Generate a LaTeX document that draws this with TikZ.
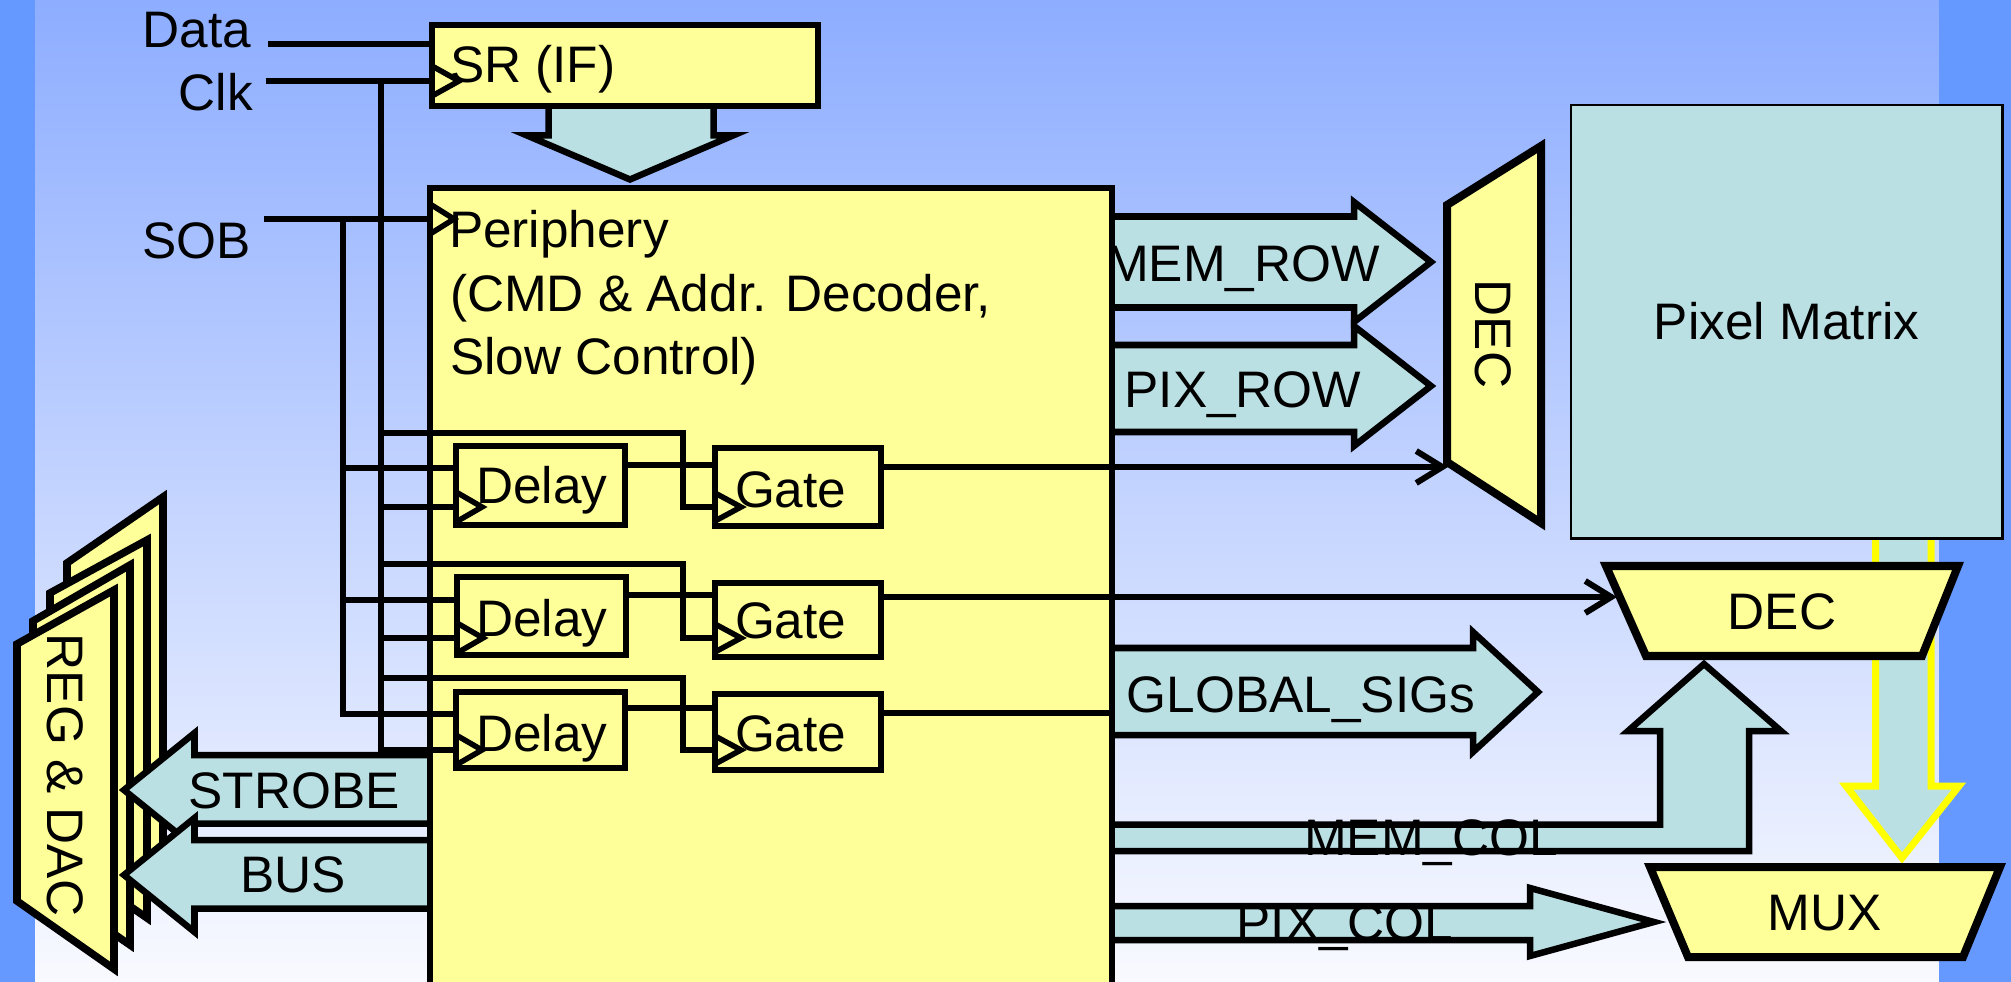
\documentclass[tikz,border=0pt]{standalone}
\usepackage{fontspec}
\setmainfont{Liberation Sans}
\usetikzlibrary{arrows.meta}
\definecolor{yfill}{RGB}{255,255,153}
\definecolor{cfill}{RGB}{187,224,227}
\definecolor{stripc}{RGB}{102,153,255}
\definecolor{bgtop}{RGB}{141,173,255}
\definecolor{bgmid}{RGB}{205,218,255}
\definecolor{bgbot}{RGB}{249,250,255}
\definecolor{yline}{RGB}{255,255,0}
\begin{document}
\begin{tikzpicture}[x=0.01cm,y=-0.01cm,
  lab/.style={font=\fontsize{14.6}{17}\selectfont, inner sep=0pt, outer sep=0pt},
  wire/.style={line width=0.06cm, line cap=butt},
  blk/.style={draw, line width=0.06cm, fill=yfill, inner sep=0pt, outer sep=0pt, anchor=north west},
  fat/.style={draw, fill=cfill, line width=0.065cm, miter limit=20},
  trap/.style={draw, fill=yfill, line width=0.08cm, miter limit=20},
  reg/.style={draw, fill=yfill, line width=0.075cm, miter limit=20},
  clock/.style={line width=0.055cm},
  tip/.style={-{Straight Barb[length=0.26cm,width=0.32cm]}},
]
\useasboundingbox (0,0) rectangle (2011,982);
\clip (0,0) rectangle (2011,982);
% background
\shade[top color=bgtop, middle color=bgmid, bottom color=bgbot] (0,0) rectangle (2011,982);
\fill[stripc] (0,0) rectangle (35,982);
\fill[stripc] (1939,0) rectangle (2011,982);

% yellow-outlined arrow from pixel matrix to MUX
\path[fill=cfill, draw=yline, line width=0.07cm, miter limit=20]
  (1875.5,530) -- (1875.5,786) -- (1846,786) -- (1902,858) -- (1959,786) -- (1931,786) -- (1931,530);

% pixel matrix
\node[draw, fill=cfill, line width=0.025cm, inner sep=0pt, outer sep=0pt, anchor=north west,
      minimum width=4.31cm, minimum height=4.33cm] (pm) at (1571,105) {};
\node[lab] (pmt) at (pm.center) {Pixel Matrix};

% decoders and mux
\draw[trap] (1447,205) -- (1541,146) -- (1541,523) -- (1447,462) -- cycle;
\draw[trap] (1606,566) -- (1958,566) -- (1922,656) -- (1646,656) -- cycle;
\draw[trap] (1650,867) -- (2000,867) -- (1963,957) -- (1688,957) -- cycle;
\coordinate (decvin) at (1448,467);
\coordinate (dechin) at (1617,597);

% wide arrows on the right
\path[fat] (1112,216.5) -- (1354,216.5) -- (1354,202) -- (1431,262) -- (1354,322) -- (1354,307.5) -- (1112,307.5);
\path[fat] (1112,345) -- (1354,345) -- (1354,326) -- (1431,386) -- (1354,446) -- (1354,432) -- (1112,432);
\path[fat] (1112,648) -- (1473,648) -- (1473,632) -- (1538,692) -- (1473,752) -- (1473,735) -- (1112,735);
\path[fat] (1112,824.5) -- (1660,824.5) -- (1660,731) -- (1628,731) -- (1704,664) -- (1781,731) -- (1749,731) -- (1749,851) -- (1112,851);
\path[fat] (1112,906) -- (1530,906) -- (1530,888) -- (1654,922) -- (1530,956) -- (1530,940) -- (1112,940);

% REG & DAC stack
\draw[reg] (67,563) -- (163,497) -- (163,890) -- (67,824) -- cycle;
\draw[reg] (50,593) -- (147,540) -- (147,918) -- (50,851) -- cycle;
\draw[reg] (33,621) -- (130,565) -- (130,945) -- (33,878) -- cycle;
\draw[reg] (17,644) -- (114,590) -- (114,969) -- (17,901) -- cycle;

% STROBE and BUS arrows
\path[fat] (430,755) -- (194.5,755) -- (194.5,733) -- (124,790) -- (194.5,847) -- (194.5,823.5) -- (430,823.5);
\path[fat] (430,840) -- (194.5,840) -- (194.5,818) -- (124,875) -- (194.5,932) -- (194.5,908.5) -- (430,908.5);

% SR down arrow
\path[fat] (548.5,105) -- (548.5,135.5) -- (527,135.5) -- (630,179.5) -- (733,135.5) -- (713.5,135.5) -- (713.5,105);

% main blocks
\node[blk, minimum width=3.86cm, minimum height=0.805cm] (sr) at (432,25) {};
\node[blk, minimum width=6.82cm, minimum height=8.4cm] (per) at (430,188) {};
\node[blk, minimum width=1.69cm, minimum height=0.79cm] (d1) at (456,446) {};
\node[blk, minimum width=1.66cm, minimum height=0.78cm] (g1) at (715,448) {};
\node[blk, minimum width=1.69cm, minimum height=0.78cm] (d2) at (457,577) {};
\node[blk, minimum width=1.66cm, minimum height=0.74cm] (g2) at (715,583) {};
\node[blk, minimum width=1.69cm, minimum height=0.76cm] (d3) at (456,692) {};
\node[blk, minimum width=1.66cm, minimum height=0.76cm] (g3) at (715,694) {};

% ports
\coordinate (datain) at (268,44);
\coordinate (clkin) at (266,81);
\coordinate (sobin) at (264,219);
\coordinate (clkv) at (381,81);
\coordinate (sobv) at (343,219);
\coordinate (clkbot) at (381,750);
\coordinate (sobbot) at (343,714);
\coordinate (b1) at (381,433); \coordinate (b1r) at (683,433); \coordinate (b1c) at (683,507);
\coordinate (b2) at (381,564); \coordinate (b2r) at (683,564); \coordinate (b2c) at (683,638);
\coordinate (b3) at (381,678); \coordinate (b3r) at (683,678); \coordinate (b3c) at (683,750);
\coordinate (d1d) at (343,468); \coordinate (d1k) at (381,507); \coordinate (d1o) at (625,465);
\coordinate (d2d) at (343,600); \coordinate (d2k) at (381,638); \coordinate (d2o) at (626,595);
\coordinate (d3o) at (625,708);
\coordinate (g3end) at (1112,713);

% wires
\draw[wire] (datain) -- (datain -| sr.west);
\draw[wire] (clkin) -- (clkin -| sr.west);
\draw[wire] (sobin) -- (sobin -| per.west);
\draw[wire] (clkv) -- (clkbot) -- (clkbot -| d3.west);
\draw[wire] (sobv) -- (sobbot) -- (sobbot -| d3.west);
\draw[wire] (b1) -- (b1r) -- (b1c) -- (b1c -| g1.west);
\draw[wire] (b2) -- (b2r) -- (b2c) -- (b2c -| g2.west);
\draw[wire] (b3) -- (b3r) -- (b3c) -- (b3c -| g3.west);
\draw[wire] (d1d) -- (d1d -| d1.west);
\draw[wire] (d1k) -- (d1k -| d1.west);
\draw[wire] (d2d) -- (d2d -| d2.west);
\draw[wire] (d2k) -- (d2k -| d2.west);
\draw[wire] (d1o) -- (d1o -| g1.west);
\draw[wire] (d2o) -- (d2o -| g2.west);
\draw[wire] (d3o) -- (d3o -| g3.west);
\draw[wire,tip] (decvin -| g1.east) -- (decvin);
\draw[wire,tip] (dechin -| g2.east) -- (dechin);
\draw[wire] (g3end -| g3.east) -- (g3end);

% clock marks
\draw[clock] (clkin -| sr.west) ++(0,-15) -- ++(27,15) -- ++(-27,15);
\draw[clock] (sobin -| per.west) ++(0,-15) -- ++(24,15) -- ++(-24,15);
\draw[clock] (d1k -| d1.west) ++(0,-15) -- ++(26,15) -- ++(-26,15);
\draw[clock] (d2k -| d2.west) ++(0,-15) -- ++(26,15) -- ++(-26,15);
\draw[clock] (clkbot -| d3.west) ++(0,-15) -- ++(26,15) -- ++(-26,15);
\draw[clock] (b1c -| g1.west) ++(0,-14) -- ++(26,14) -- ++(-26,14);
\draw[clock] (b2c -| g2.west) ++(0,-14) -- ++(26,14) -- ++(-26,14);
\draw[clock] (b3c -| g3.west) ++(0,-14) -- ++(26,14) -- ++(-26,14);

% texts
\node[lab, anchor=base east] (tdata) at (251,48) {Data};
\node[lab, anchor=base east] (tclk) at (253,111) {Clk};
\node[lab, anchor=base east] (tsob) at (251,259) {SOB};
\node[lab, anchor=base west] (tsr) at (450,83) {SR (IF)};
\node[lab, anchor=base west] (tp1) at (449,248) {Periphery};
\node[lab, anchor=base west] (tp2) at (450,312) {(CMD \& Addr. Decoder,};
\node[lab, anchor=base west] (tp3) at (450,375) {Slow Control)};
\node[lab, anchor=base west] (td1) at (476,503) {Delay};
\node[lab, anchor=base west] (td2) at (476,636) {Delay};
\node[lab, anchor=base west] (td3) at (476,751) {Delay};
\node[lab, anchor=base west] (tg1) at (735,508) {Gate};
\node[lab, anchor=base west] (tg2) at (735,638) {Gate};
\node[lab, anchor=base west] (tg3) at (735,751) {Gate};
\node[lab] (tstrobe) at (294,791) {STROBE};
\node[lab] (tbus) at (293,875) {BUS};
\node[lab, rotate=-90] (treg) at (65,775) {REG \& DAC};
\node[lab, anchor=base] (tmemrow) at (1243,282) {MEM\_ROW};
\node[lab, anchor=base] (tpixrow) at (1243,407) {PIX\_ROW};
\node[lab, anchor=base] (tglob) at (1301,712) {GLOBAL\_SIGs};
\node[lab, anchor=base] (tmemcol) at (1431,855) {MEM\_COL};
\node[lab, anchor=base] (tpixcol) at (1345,940) {PIX\_COL};
\node[lab, rotate=-90] (tdecv) at (1493,334) {DEC};
\node[lab] (tdech) at (1782,612) {DEC};
\node[lab] (tmux) at (1825,913) {MUX};
\end{tikzpicture}
\end{document}
